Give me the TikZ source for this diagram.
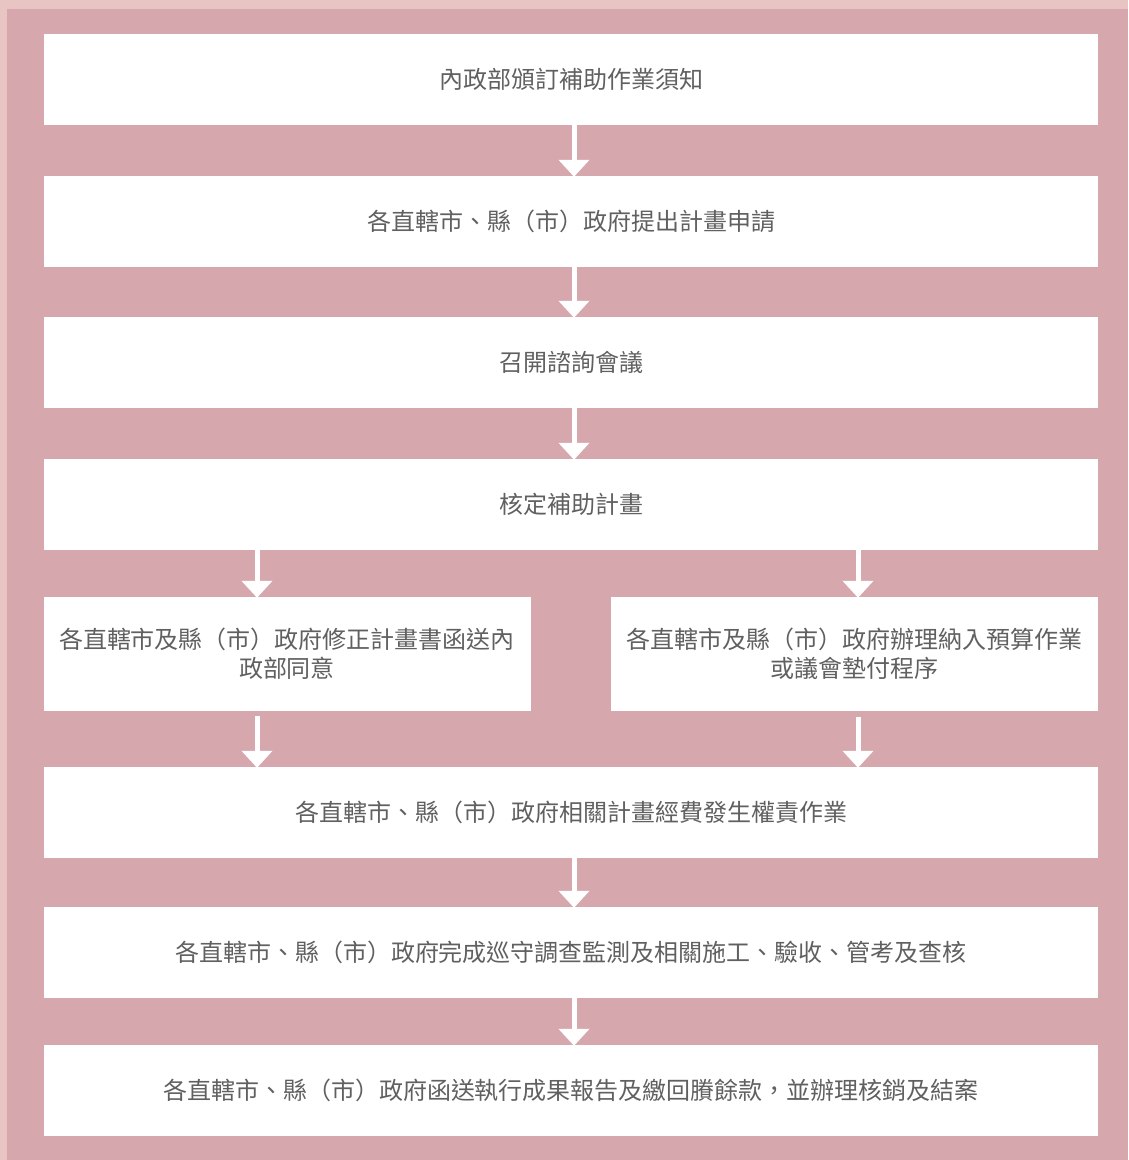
\documentclass[tikz,border=0pt]{standalone}
\usepackage{fontspec}
\usepackage{tikz}
\usetikzlibrary{arrows.meta}
\newfontfamily\cjk{Noto Sans CJK TC}
\definecolor{backlight}{HTML}{E8C4C3}
\definecolor{backdark}{HTML}{D6A7AD}
\definecolor{textgray}{HTML}{606060}
\tikzset{
  stepbox/.style={rectangle, fill=white, inner sep=0pt, align=center,
    text=textgray, font=\cjk\fontsize{24}{29}\selectfont},
  flowarrow/.style={draw=white, line width=5pt,
    -{Triangle[width=30pt,length=17pt]}, shorten >=-1pt}
}
\newcommand{\widestep}[3] {\node at (571,#1) (#2) [stepbox, minimum width=1054pt, minimum height=91pt] {#3};}
\newcommand{\halfstep}[3] {\node at (#1) (#2) [stepbox, minimum width=487pt, minimum height=114pt] {#3};}

\begin{document}
\begin{tikzpicture}[x=1pt,y=-1pt]
\fill [backlight] (0,0) rectangle (1128,1160);
\fill [backdark] (7,9) rectangle (1128,1160);

\widestep {79.5} {notice} {內政部頒訂補助作業須知};
\widestep {221.5} {apply} {各直轄市、縣（市）政府提出計畫申請};
\widestep {362.5} {meeting} {召開諮詢會議};
\widestep {504.5} {approve} {核定補助計畫};
\halfstep {287,654} {revise} {各直轄市及縣（市）政府修正計畫書函送內\\政部同意};
\halfstep {854.5,654} {budget} {各直轄市及縣（市）政府辦理納入預算作業\\或議會墊付程序};
\widestep {812.5} {expense} {各直轄市、縣（市）政府相關計畫經費發生權責作業};
\widestep {952.5} {inspect} {各直轄市、縣（市）政府完成巡守調查監測及相關施工、驗收、管考及查核};
\widestep {1090.5} {closing} {各直轄市、縣（市）政府函送執行成果報告及繳回賸餘款，並辦理核銷及結案};

\draw [flowarrow] (notice.south -| 574,0) -- (apply.north -| 574,0);
\draw [flowarrow] (apply.south -| 574,0) -- (meeting.north -| 574,0);
\draw [flowarrow] (meeting.south -| 574,0) -- (approve.north -| 574,0);

\draw [flowarrow] (approve.south -| 257,0) -- (revise.north -| 257,0);
\draw [flowarrow] (approve.south -| 858,0) -- (budget.north -| 858,0);
\draw [flowarrow] ([yshift=-5pt]revise.south -| 257,0) -- (expense.north -| 257,0);
\draw [flowarrow] ([yshift=-6pt]budget.south -| 858,0) -- (expense.north -| 858,0);

\draw [flowarrow] (expense.south -| 574,0) -- (inspect.north -| 574,0);
\draw [flowarrow] (inspect.south -| 574,0) -- (closing.north -| 574,0);
\end{tikzpicture}
\end{document}
